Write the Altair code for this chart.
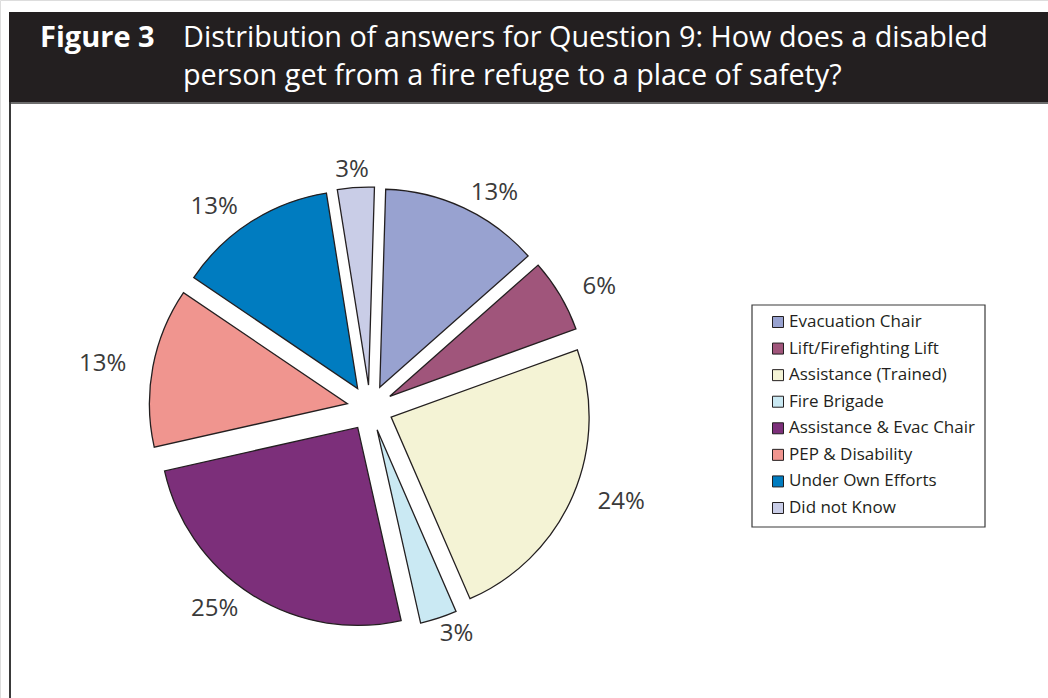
import altair as alt
import pandas as pd

categories = ["Evacuation Chair", "Lift/Firefighting Lift", "Assistance (Trained)",
              "Fire Brigade", "Assistance & Evac Chair", "PEP & Disability",
              "Under Own Efforts", "Did not Know"]
percentages = [13, 6, 24, 3, 25, 13, 13, 3]
colors = ["#98A2D0", "#A0557B", "#F4F3D5", "#CAE9F3", "#7C2F7A", "#F0958F",
          "#007CC0", "#C9CDE7"]

title_bold = "Figure 3"
title_line1 = "Distribution of answers for Question 9: How does a disabled"
title_line2 = "person get from a fire refuge to a place of safety?"

FONT = "Open Sans"
W, H = 1048, 698
CX, CY, R, EXPL = 370, 408, 198, 23
ROT = 0.03  # start rotation (radians)

df = pd.DataFrame({"cat": categories, "pct": percentages, "order": list(range(len(categories)))})
one = pd.DataFrame({"k": [0]})

color_scale = alt.Scale(domain=categories, range=colors)

base = alt.Chart(df).transform_window(
    cum="sum(pct)", sort=[alt.SortField("order")], frame=[None, 0]
).transform_calculate(
    t0=f"(datum.cum - datum.pct) / 100 * 2 * PI + {ROT}",
    t1=f"datum.cum / 100 * 2 * PI + {ROT}",
    lab="datum.pct + '%'",
).transform_calculate(
    mid="(datum.t0 + datum.t1) / 2"
).transform_calculate(
    cx=f"{CX} + {EXPL} * sin(datum.mid)",
    cy=f"{CY} - {EXPL} * cos(datum.mid)",
    lw="7.2 * length(datum.lab) * min(1, 2 * abs(sin(datum.mid)))",
).transform_calculate(
    lx=f"{CX} + 250 * sin(datum.mid) + (sin(datum.mid) >= 0 ? 1 : -1) * datum.lw",
    ly=f"{CY} - 238 * cos(datum.mid)",
)

arcs = base.mark_arc(outerRadius=R, stroke="#231F20", strokeWidth=1.3).encode(
    theta=alt.Theta("t0:Q", scale=None),
    theta2="t1:Q",
    x=alt.X("cx:Q", scale=None),
    y=alt.Y("cy:Q", scale=None),
    color=alt.Color("cat:N", scale=color_scale, legend=None),
)

labels = base.mark_text(font=FONT, fontSize=24, color="#3a3a3a", baseline="middle", align="center").encode(
    x=alt.X("lx:Q", scale=None),
    y=alt.Y("ly:Q", scale=None),
    text="lab:N",
)

# header
header_bg = alt.Chart(one).mark_rect(color="#231F20").encode(
    x=alt.value(9), x2=alt.value(W), y=alt.value(12), y2=alt.value(102)
)
header_line = alt.Chart(one).mark_rule(color="#6d6d6d", strokeWidth=2).encode(
    x=alt.value(9), x2=alt.value(W), y=alt.value(103)
)
left_border = alt.Chart(one).mark_rule(color="#3a3a3a", strokeWidth=2).encode(
    x=alt.value(10), y=alt.value(102), y2=alt.value(H)
)
t_bold = alt.Chart(one).mark_text(font=FONT, fontSize=29, fontWeight="bold", color="white",
                                  align="left", baseline="alphabetic").encode(
    x=alt.value(40), y=alt.value(47), text=alt.value(title_bold)
)
t1 = alt.Chart(one).mark_text(font=FONT, fontSize=28.8, color="white",
                              align="left", baseline="alphabetic").encode(
    x=alt.value(183), y=alt.value(47), text=alt.value(title_line1)
)
t2 = alt.Chart(one).mark_text(font=FONT, fontSize=28.8, color="white",
                              align="left", baseline="alphabetic").encode(
    x=alt.value(183), y=alt.value(85), text=alt.value(title_line2)
)

# legend (manual)
legend_box = alt.Chart(one).mark_rect(fill="white", stroke="#3a3a3a", strokeWidth=1.2).encode(
    x=alt.value(752), x2=alt.value(985), y=alt.value(305), y2=alt.value(527)
)
leg_y = alt.Y("cat:N", scale=alt.Scale(domain=categories, range=[322, 508], type="point", padding=0), axis=None)
leg_sym = alt.Chart(df).mark_square(size=121, stroke="#231F20", strokeWidth=1, opacity=1).encode(
    x=alt.value(778), y=leg_y,
    color=alt.Color("cat:N", scale=color_scale, legend=None),
)
leg_txt = alt.Chart(df).mark_text(font=FONT, fontSize=17, color="#231F20", align="left", baseline="middle").encode(
    x=alt.value(789), y=leg_y, text="cat:N"
)

chart = alt.layer(
    header_bg, header_line, left_border, t_bold, t1, t2,
    arcs, labels, legend_box, leg_sym, leg_txt
).resolve_scale(y="independent", x="independent").properties(
    width=W, height=H, padding=0, autosize=alt.AutoSizeParams(type="none")
).configure_view(stroke=None).configure(background="white")

chart.save("out.html", embed_options={"renderer": "svg", "actions": False})
